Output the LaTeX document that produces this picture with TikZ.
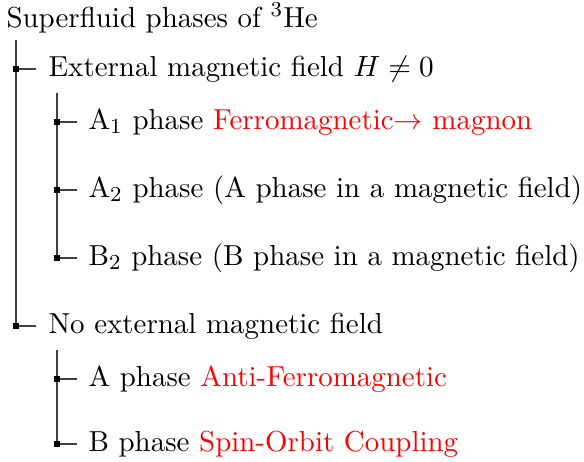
\documentclass[tikz,border=0pt]{standalone}
\begin{document}
\begin{tikzpicture}[x=0.375pt,y=-0.375pt,
  lbl/.style={anchor=base west,inner sep=0pt,font=\fontsize{10.85}{13}\selectfont},
  treeline/.style={draw=black!75,line width=0.45pt}]
\useasboundingbox (0,0) rectangle (584,461);
% labels
\node[lbl] (root) at (6,27) {Superfluid phases of $^3$He};
\node[lbl] (ext) at (48,76) {External magnetic field $H\neq 0$};
\node[lbl] (a1) at (88,129) {A$_1$ phase \textcolor{red}{Ferromagnetic$\rightarrow$ magnon}};
\node[lbl] (a2) at (88,197) {A$_2$ phase (A phase in a magnetic field)};
\node[lbl] (b2) at (88,265) {B$_2$ phase (B phase in a magnetic field)};
\node[lbl] (noext) at (48,333) {No external magnetic field};
\node[lbl] (ap) at (88,386) {A phase \textcolor{red}{Anti-Ferromagnetic}};
\node[lbl] (bp) at (88,451) {B phase \textcolor{red}{Spin-Orbit Coupling}};
% tree coordinates
\coordinate (t1) at (16,40);
\coordinate (s1) at (16,69);
\coordinate (s2) at (16,326);
\coordinate (t2) at (57,93);
\coordinate (s11) at (57,122);
\coordinate (s12) at (57,190);
\coordinate (s13) at (57,258);
\coordinate (t3) at (57,350);
\coordinate (s21) at (57,379);
\coordinate (s22) at (57,444);
% vertical lines
\draw[treeline] (t1) -- (s2);
\draw[treeline] (t2) -- (s13);
\draw[treeline] (t3) -- (s22);
% ticks
\foreach \s in {s1,s2,s11,s12,s13,s21,s22}{\draw[treeline] (\s) -- ++(20,0);}
% squares
\foreach \s in {s1,s2,s11,s12,s13,s21,s22}{\fill[black] ([shift={(-3,-3)}]\s) rectangle ++(6,6);}
\end{tikzpicture}
\end{document}
